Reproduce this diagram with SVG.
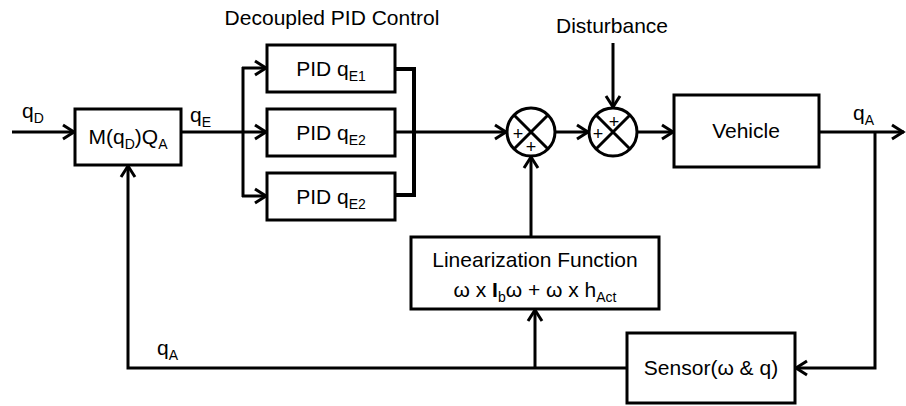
<svg xmlns="http://www.w3.org/2000/svg" width="906" height="406" viewBox="0 0 906 406">
  <style>
    text { font-family: "Liberation Sans", Arial, sans-serif; font-size: 21px; fill: #000; }
    .lbl { text-anchor: middle; }
    .sub { font-size: 14px; }
    .sign { font-size: 18px; text-anchor: middle; }
    .box { fill: #fff; stroke: #000; stroke-width: 3; }
    .wire { fill: none; stroke: #000; stroke-width: 3; }
    .bus { fill: none; stroke: #000; stroke-width: 4; }
  </style>
  <defs>
    <marker id="arrow" markerUnits="userSpaceOnUse" markerWidth="20" markerHeight="20" viewBox="-16 -10 20 20" refX="0" refY="0" orient="auto">
      <path d="M-12,-7 L-1,0 L-12,7" fill="none" stroke="#000" stroke-width="3"/>
    </marker>
  </defs>

  <!-- free-standing labels -->
  <text class="lbl" x="332" y="25">Decoupled PID Control</text>
  <text class="lbl" x="612" y="33">Disturbance</text>
  <text x="22" y="118">q<tspan class="sub" dy="5">D</tspan></text>
  <text x="190" y="122">q<tspan class="sub" dy="5">E</tspan></text>
  <text x="853" y="120">q<tspan class="sub" dy="5">A</tspan></text>
  <text x="157" y="355">q<tspan class="sub" dy="5">A</tspan></text>

  <!-- connectors -->
  <g id="connectors">
    <line class="wire" x1="12" y1="132" x2="75" y2="132" marker-end="url(#arrow)"/>
    <line class="wire" x1="181" y1="132" x2="243" y2="132"/>
    <line class="wire" x1="243" y1="67" x2="243" y2="197"/>
    <line class="wire" x1="242" y1="68" x2="267" y2="68" marker-end="url(#arrow)"/>
    <line class="wire" x1="243" y1="132" x2="267" y2="132" marker-end="url(#arrow)"/>
    <line class="wire" x1="242" y1="196" x2="267" y2="196" marker-end="url(#arrow)"/>
    <path class="bus" d="M395,69 H414 V195 H395"/>
    <line class="wire" x1="395" y1="132" x2="507" y2="132" marker-end="url(#arrow)"/>
    <line class="wire" x1="555" y1="132" x2="589" y2="132" marker-end="url(#arrow)"/>
    <line class="wire" x1="613" y1="43" x2="613" y2="108" marker-end="url(#arrow)"/>
    <line class="wire" x1="637" y1="132" x2="674" y2="132" marker-end="url(#arrow)"/>
    <line class="wire" x1="819" y1="132" x2="904" y2="132" marker-end="url(#arrow)"/>
    <path class="wire" d="M875,132 V368 H795" marker-end="url(#arrow)"/>
    <path class="wire" d="M627,368 H128 V165" marker-end="url(#arrow)"/>
    <line class="wire" x1="535" y1="368" x2="535" y2="309" marker-end="url(#arrow)"/>
    <line class="wire" x1="531" y1="237" x2="531" y2="156" marker-end="url(#arrow)"/>
  </g>

  <g id="mapping">
    <rect class="box" x="75" y="109" width="106" height="56"/>
    <text class="lbl" x="128" y="144">M(q<tspan class="sub" dy="5">D</tspan><tspan dy="-5">)Q</tspan><tspan class="sub" dy="5">A</tspan></text>
  </g>

  <g id="pid1">
    <rect class="box" x="267" y="45" width="128" height="47"/>
    <text class="lbl" x="331" y="76">PID q<tspan class="sub" dy="5">E1</tspan></text>
  </g>
  <g id="pid2">
    <rect class="box" x="267" y="109" width="128" height="47"/>
    <text class="lbl" x="331" y="140">PID q<tspan class="sub" dy="5">E2</tspan></text>
  </g>
  <g id="pid3">
    <rect class="box" x="267" y="173" width="128" height="47"/>
    <text class="lbl" x="331" y="204">PID q<tspan class="sub" dy="5">E2</tspan></text>
  </g>

  <g id="sum1">
    <circle class="box" cx="531" cy="132" r="24"/>
    <path class="wire" d="M514,115 L548,149 M548,115 L514,149"/>
    <text class="sign" x="518" y="140">+</text>
    <text class="sign" x="531" y="153">+</text>
  </g>

  <g id="sum2">
    <circle class="box" cx="613" cy="132" r="24"/>
    <path class="wire" d="M596,115 L630,149 M630,115 L596,149"/>
    <text class="sign" x="598" y="140">+</text>
    <text class="sign" x="614" y="128">+</text>
  </g>

  <g id="vehicle">
    <rect class="box" x="674" y="95" width="145" height="72"/>
    <text class="lbl" x="746" y="138">Vehicle</text>
  </g>

  <g id="linearization">
    <rect class="box" x="411" y="237" width="248" height="72"/>
    <text class="lbl" x="535" y="267">Linearization Function</text>
    <text class="lbl" x="535" y="297">ω x <tspan font-weight="bold">I</tspan><tspan class="sub" dy="5">b</tspan><tspan dy="-5">ω + ω x h</tspan><tspan class="sub" dy="5">Act</tspan></text>
  </g>

  <g id="sensor">
    <rect class="box" x="627" y="333" width="168" height="70"/>
    <text class="lbl" x="711" y="375">Sensor(ω &amp; q)</text>
  </g>
</svg>
